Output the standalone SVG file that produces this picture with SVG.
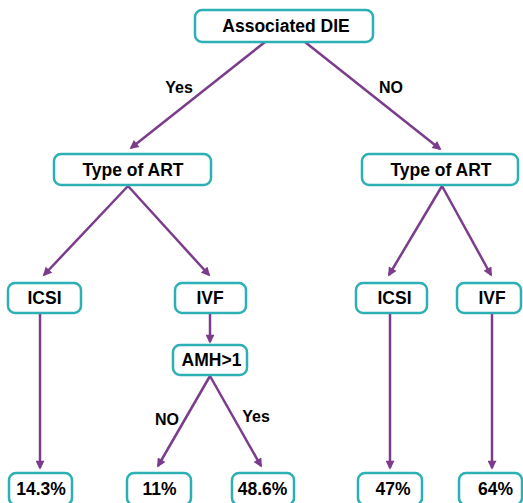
<svg xmlns="http://www.w3.org/2000/svg" width="523" height="503" viewBox="0 0 523 503">
<style>
.box{fill:#fff;stroke:#2db0b5;stroke-width:2.5}
.t{font-family:"Liberation Sans",Arial,sans-serif;font-weight:bold;font-size:17.5px;fill:#000;text-anchor:middle}
.l{font-family:"Liberation Sans",Arial,sans-serif;font-weight:bold;font-size:16px;fill:#000;text-anchor:middle}
.c{stroke:#7b3c8c;stroke-width:2.5;fill:none;marker-end:url(#ah)}
</style>
<defs>
<marker id="ah" viewBox="0 0 10 10" refX="8" refY="5" markerWidth="10" markerHeight="9" markerUnits="userSpaceOnUse" orient="auto">
<path d="M0,0 L10,5 L0,10 z" fill="#7b3c8c"/>
</marker>
</defs>
<g id="connectors">
<line class="c" x1="265" y1="42" x2="131" y2="148"/>
<line class="c" x1="305" y1="42" x2="440" y2="149"/>
<line class="c" x1="128" y1="186" x2="44" y2="275"/>
<line class="c" x1="128" y1="186" x2="209" y2="275"/>
<line class="c" x1="442" y1="186" x2="389" y2="275"/>
<line class="c" x1="442" y1="186" x2="491" y2="275"/>
<line class="c" x1="40" y1="313" x2="40" y2="468"/>
<line class="c" x1="210" y1="313" x2="210" y2="342"/>
<line class="c" x1="210" y1="376" x2="158" y2="466"/>
<line class="c" x1="210" y1="376" x2="261" y2="466"/>
<line class="c" x1="390" y1="313" x2="390" y2="468"/>
<line class="c" x1="492" y1="313" x2="492" y2="468"/>
</g>
<g id="labels">
<text class="l" x="179" y="93">Yes</text>
<text class="l" x="391" y="93">NO</text>
<text class="l" x="167" y="425">NO</text>
<text class="l" x="256" y="422">Yes</text>
</g>
<g id="n-die"><rect class="box" x="195" y="10" width="178" height="32" rx="7"/><text class="t" x="286" y="32">Associated DIE</text></g>
<g id="n-art-yes"><rect class="box" x="54" y="154" width="157" height="31" rx="7"/><text class="t" x="133" y="176">Type of ART</text></g>
<g id="n-art-no"><rect class="box" x="362" y="154" width="156" height="31" rx="7"/><text class="t" x="441" y="176">Type of ART</text></g>
<g id="n-icsi-yes"><rect class="box" x="8" y="283" width="73" height="30" rx="7"/><text class="t" x="44.5" y="304">ICSI</text></g>
<g id="n-ivf-yes"><rect class="box" x="175" y="283" width="71" height="30" rx="7"/><text class="t" x="210" y="304">IVF</text></g>
<g id="n-icsi-no"><rect class="box" x="356" y="283" width="71" height="30" rx="7"/><text class="t" x="394.5" y="304">ICSI</text></g>
<g id="n-ivf-no"><rect class="box" x="457" y="283" width="64" height="30" rx="7"/><text class="t" x="492" y="304">IVF</text></g>
<g id="n-amh"><rect class="box" x="173" y="345" width="74" height="30" rx="7"/><text class="t" x="211.5" y="366">AMH&gt;1</text></g>
<g id="n-143"><rect class="box" x="9" y="473" width="63" height="32" rx="7"/><text class="t" x="41" y="495">14.3%</text></g>
<g id="n-11"><rect class="box" x="127" y="473" width="64" height="32" rx="7"/><text class="t" x="159.5" y="495">11%</text></g>
<g id="n-486"><rect class="box" x="232" y="473" width="62" height="32" rx="7"/><text class="t" x="262.5" y="495">48.6%</text></g>
<g id="n-47"><rect class="box" x="358" y="473" width="64" height="32" rx="7"/><text class="t" x="393" y="495">47%</text></g>
<g id="n-64"><rect class="box" x="459" y="473" width="63" height="32" rx="7"/><text class="t" x="495.5" y="495">64%</text></g>
</svg>
